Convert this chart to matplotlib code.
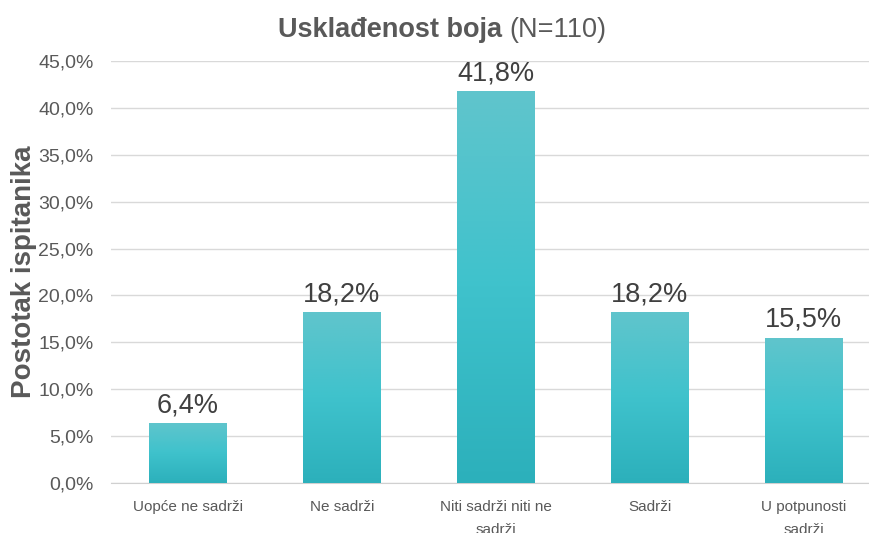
import numpy as np
import matplotlib.pyplot as plt
from matplotlib.colors import LinearSegmentedColormap
from matplotlib.ticker import FuncFormatter

plt.rcParams['font.family'] = ['Liberation Sans', 'DejaVu Sans']

# data
categories = ['Uopće ne sadrži', 'Ne sadrži', 'Niti sadrži niti ne\nsadrži', 'Sadrži', 'U potpunosti\nsadrži']
values = [6.4, 18.2, 41.8, 18.2, 15.5]
y_ticks = [0, 5, 10, 15, 20, 25, 30, 35, 40, 45]

grey = '#595959'

fig = plt.figure(figsize=(8.7, 5.33), dpi=100)
ax = fig.add_axes([0.1276, 0.0938, 0.8724, 0.7918])

x = np.arange(len(categories))
bars = ax.bar(x, values, width=0.506, color='none', zorder=3)

# vertical gradient inside each bar
cmap = LinearSegmentedColormap.from_list('teal', ['#2cb0bb', '#3fc2cc', '#60c5cc'])
grad = np.linspace(0, 1, 256).reshape(-1, 1)
for b in bars:
    x0, y0 = b.get_x(), b.get_y()
    w, h = b.get_width(), b.get_height()
    im = ax.imshow(grad, cmap=cmap, aspect='auto', origin='lower',
                   extent=[x0, x0 + w, y0, y0 + h], zorder=3)
    im.set_clip_path(b)

for xi, v in zip(x, values):
    ax.text(xi, v + 0.5, f'{v:.1f}%'.replace('.', ','), ha='center', va='bottom',
            fontsize=19.5, color='#404040', zorder=4)

ax.set_xlim(-0.5, 4.43)
ax.set_ylim(0, 45)
ax.set_yticks(y_ticks)
ax.yaxis.set_major_formatter(FuncFormatter(lambda v, p: f'{v:.1f}%'.replace('.', ',')))
ax.set_xticks(x)
ax.set_xticklabels(categories, fontsize=11, color=grey, linespacing=1.85)
ax.tick_params(axis='y', labelsize=14, labelcolor=grey, length=0, pad=12.5)
ax.tick_params(axis='x', length=0, pad=12)

ax.grid(axis='y', color='#d9d9d9', linewidth=1, zorder=0)
for s in ['top', 'right', 'left']:
    ax.spines[s].set_visible(False)
ax.spines['bottom'].set_color('#d0d0d0')

ax.set_ylabel('Postotak ispitanika', fontsize=20, fontweight='bold', color=grey)
ax.yaxis.set_label_coords(-0.097, 0.5)

# title: bold part + normal part
t1 = fig.text(0.5, 0.93, 'Usklađenost boja ', fontsize=19.5, fontweight='bold', color=grey, ha='left', va='baseline')
t2 = fig.text(0.5, 0.93, '(N=110)', fontsize=19.5, color=grey, ha='left', va='baseline')
fig.canvas.draw()
r = fig.canvas.get_renderer()
w1 = t1.get_window_extent(r).width / fig.bbox.width
w2 = t2.get_window_extent(r).width / fig.bbox.width
start = 0.508 - (w1 + w2) / 2
t1.set_x(start)
t2.set_x(start + w1)

fig.savefig('out.png', dpi=100)
